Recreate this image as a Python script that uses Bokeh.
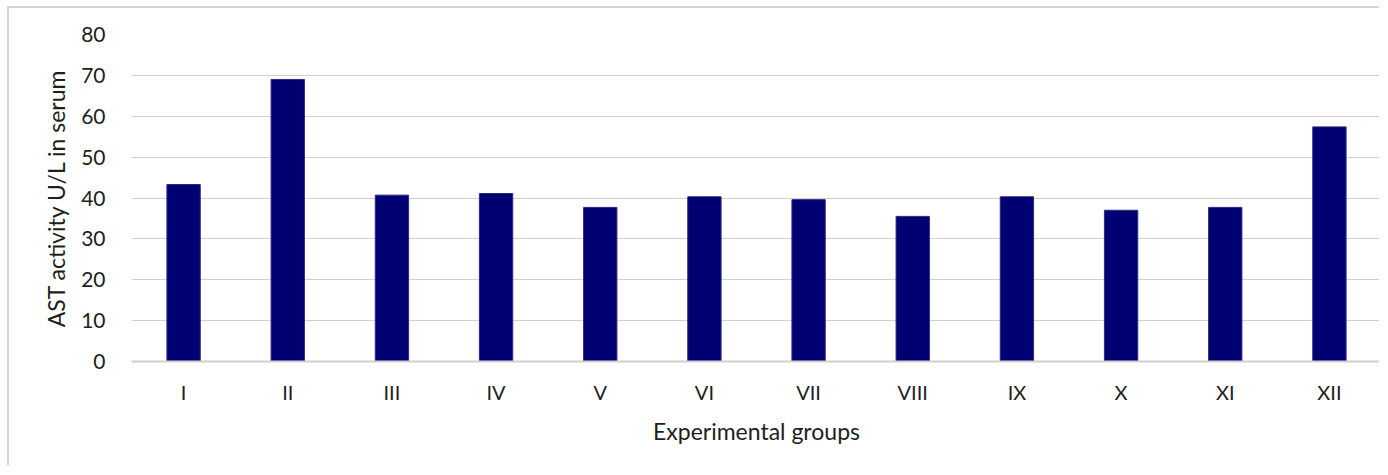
from bokeh.plotting import figure
from bokeh.models import ColumnDataSource, Range1d, FixedTicker
from bokeh.embed import file_html
from bokeh.resources import INLINE

groups = ["I", "II", "III", "IV", "V", "VI", "VII", "VIII", "IX", "X", "XI", "XII"]
ast_values = [43.3, 69.0, 40.7, 41.1, 37.7, 40.3, 39.6, 35.5, 40.3, 37.0, 37.7, 57.4]
y_ticks = [0, 10, 20, 30, 40, 50, 60, 70, 80]

FONT = "Lato"
TXT = "#1e1e1e"

src = ColumnDataSource(dict(g=groups, v=ast_values))

p = figure(x_range=groups, y_range=Range1d(0, 80), width=1372, height=459,
           output_backend="svg", toolbar_location=None,
           min_border_left=122, min_border_right=0, min_border_top=26, min_border_bottom=106)
p.x_range.range_padding = 0
p.vbar(x="g", top="v", width=0.32, source=src, fill_color="#000073", line_color="#2a2a85", line_width=1)

p.outline_line_color = None
p.styles = {"border-top": "2px solid #d4d4d4", "border-left": "2px solid #d4d4d4",
            "box-sizing": "border-box", "margin-left": "7px", "margin-top": "6px"}

p.xgrid.grid_line_color = None
p.ygrid.grid_line_color = "#d0d0d0"
p.ygrid.grid_line_width = 1
p.yaxis.ticker = FixedTicker(ticks=y_ticks)

p.yaxis.axis_line_color = None
p.yaxis.major_tick_line_color = None
p.yaxis.minor_tick_line_color = None
p.yaxis.major_label_standoff = 20
p.yaxis.major_label_text_font = FONT
p.yaxis.major_label_text_font_size = "21px"
p.yaxis.major_label_text_color = TXT
p.yaxis.axis_label = "AST activity U/L in serum"
p.yaxis.axis_label_text_font = FONT
p.yaxis.axis_label_text_font_size = "23px"
p.yaxis.axis_label_text_font_style = "normal"
p.yaxis.axis_label_text_color = TXT
p.yaxis.axis_label_standoff = 8

p.xaxis.axis_line_color = "#d0d0d0"
p.xaxis.axis_line_width = 2
p.xaxis.major_tick_line_color = None
p.xaxis.minor_tick_line_color = None
p.xaxis.major_label_standoff = 12
p.xaxis.major_label_text_font = FONT
p.xaxis.major_label_text_font_size = "20px"
p.xaxis.major_label_text_color = TXT
p.xaxis.axis_label = "Experimental groups"
p.xaxis.axis_label_text_font = FONT
p.xaxis.axis_label_text_font_size = "23px"
p.xaxis.axis_label_text_font_style = "normal"
p.xaxis.axis_label_text_color = TXT
p.xaxis.axis_label_standoff = 10

open("out.html", "w").write(file_html(p, INLINE))
